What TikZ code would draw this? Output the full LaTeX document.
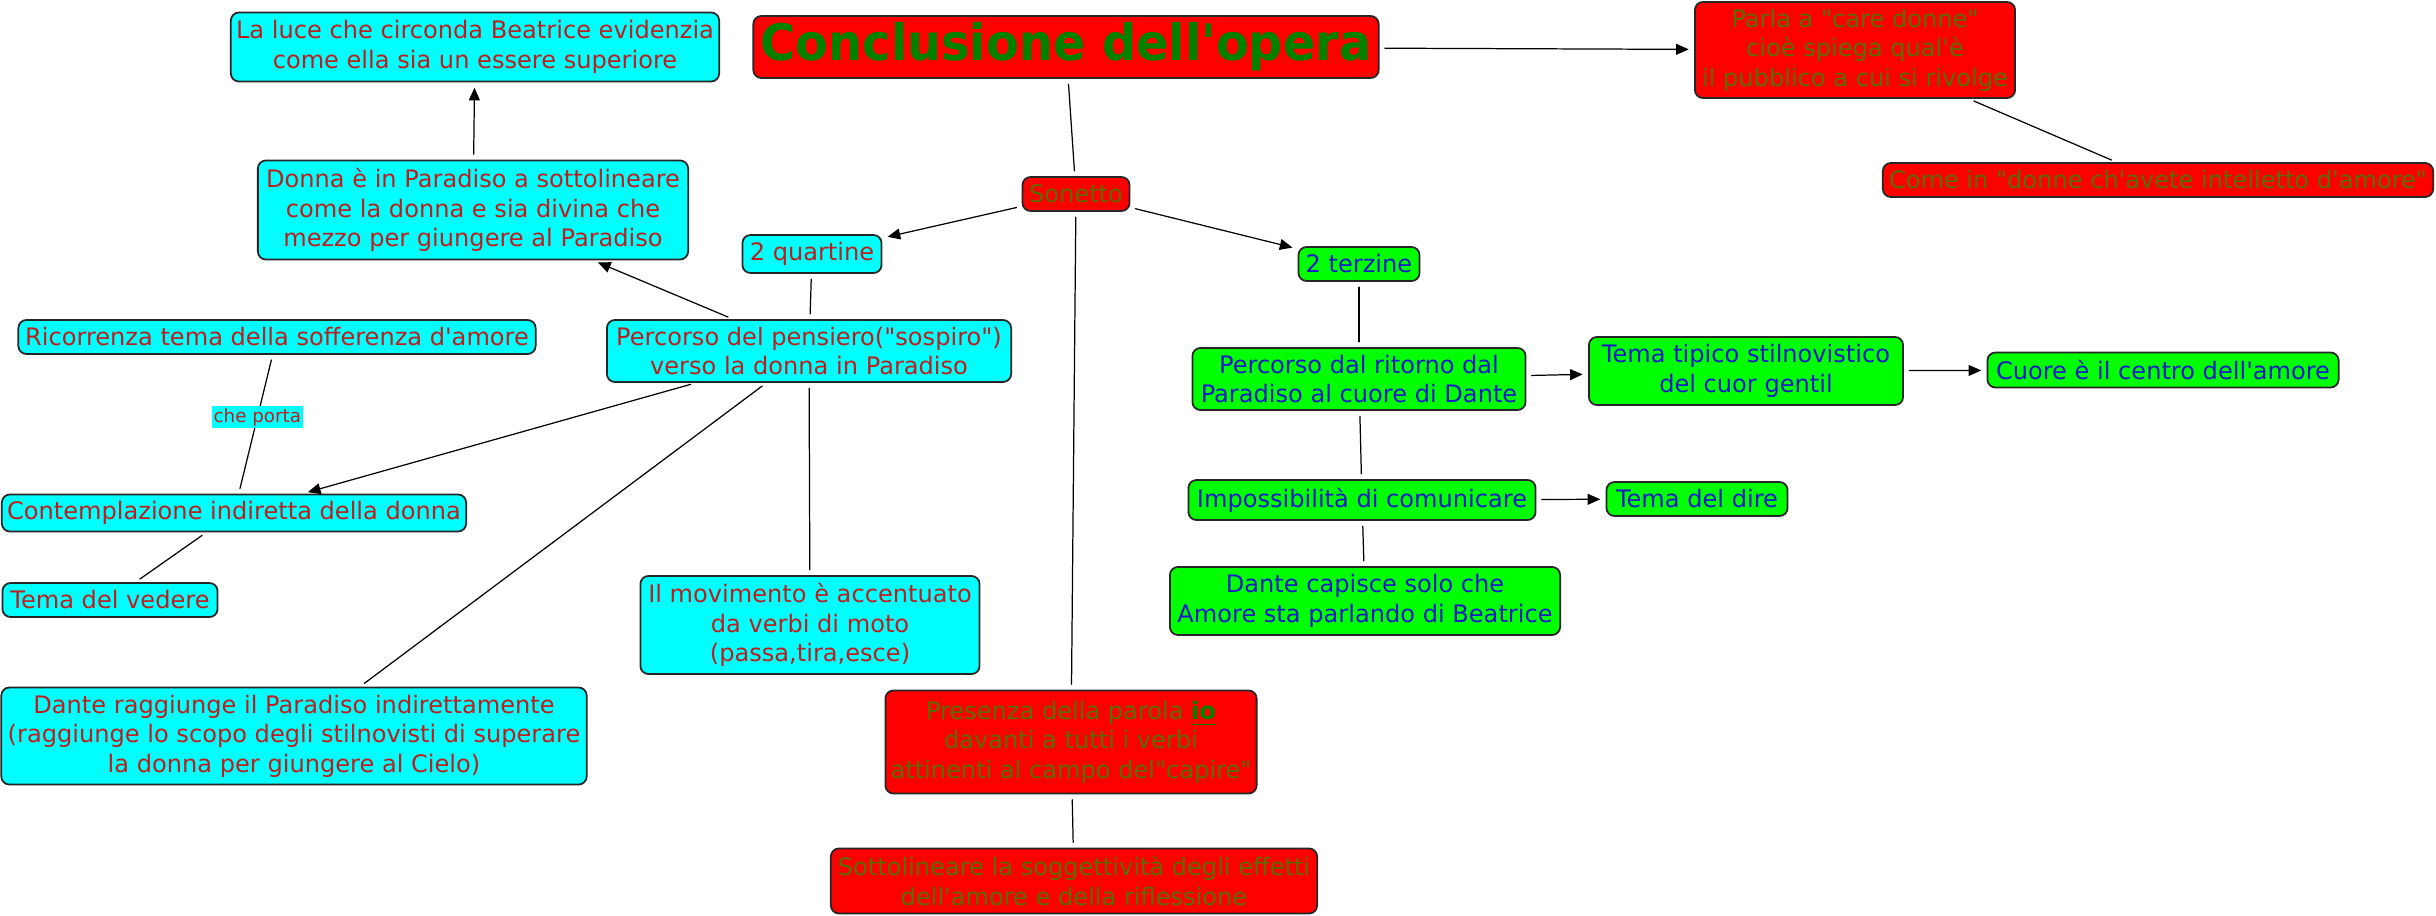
\documentclass[tikz,border=0pt]{standalone}
\usepackage{fontspec}
\setmainfont{DejaVu Sans}[Ligatures=TeXOff]
\newfontfamily\titlefont{DejaVu Sans}[Ligatures=TeXOff,FakeStretch=0.95]
\usepackage{tikz}
\usetikzlibrary{arrows.meta}
\usepackage{xcolor}
\definecolor{boxcyan}{RGB}{0,255,255}
\definecolor{boxred}{RGB}{255,0,0}
\definecolor{boxgreen}{RGB}{0,255,0}
\definecolor{txtred}{RGB}{190,30,30}
\definecolor{txtolive}{RGB}{88,110,0}
\definecolor{txtblue}{RGB}{25,25,200}
\definecolor{txtgreen}{RGB}{0,128,0}

\begin{document}
\begin{tikzpicture}[x=0.01cm,y=-0.01cm,>={Triangle[length=3.6pt,width=3.1pt]},line cap=round,
  font=\fontsize{6.85}{8.4}\selectfont,
  box/.style={draw=black!85,line width=0.5pt,rounded corners=2.3pt,align=center,inner sep=0pt},
  cy/.style={box,fill=boxcyan,text=txtred},
  rd/.style={box,fill=boxred,text=txtolive},
  gr/.style={box,fill=boxgreen,text=txtblue},
  link/.style={black,line width=0.35pt,shorten <=1.5pt,shorten >=1.5pt}]
\useasboundingbox (0,0) rectangle (2436,915);
% top row
\node[rd,text=txtgreen,font=\titlefont\bfseries\fontsize{14.3}{17}\selectfont,minimum width=6.25cm,minimum height=0.62cm] (title) at (1066,47) {Conclusione dell'opera};
\node[rd,minimum width=3.2cm,minimum height=0.96cm] (parla) at (1855,50) {Parla a "care donne"\\cioè spiega qual'è\\il pubblico a cui si rivolge};
\node[rd,minimum width=5.5cm,minimum height=0.34cm] (comein) at (2158,180) {Come in "donne ch'avete intelletto d'amore"};
\node[rd,minimum width=1.07cm,minimum height=0.34cm] (sonetto) at (1076,194) {Sonetto};
\node[cy,minimum width=4.88cm,minimum height=0.69cm] (luce) at (475,47) {La luce che circonda Beatrice evidenzia\\come ella sia un essere superiore};
\node[cy,minimum width=4.3cm,minimum height=0.99cm] (donna) at (473,210) {Donna è in Paradiso a sottolineare\\come la donna e sia divina che\\mezzo per giungere al Paradiso};
% quartine
\node[cy,minimum width=1.39cm,minimum height=0.38cm] (quartine) at (812,254) {2 quartine};
\node[cy,minimum width=5.17cm,minimum height=0.34cm] (ricorrenza) at (277,337) {Ricorrenza tema della sofferenza d'amore};
\node[cy,minimum width=4.04cm,minimum height=0.62cm] (pensiero) at (809,351) {Percorso del pensiero("sospiro")\\verso la donna in Paradiso};
\node[cy,minimum width=4.64cm,minimum height=0.37cm] (contempl) at (234,513) {Contemplazione indiretta della donna};
\node[cy,minimum width=2.15cm,minimum height=0.34cm] (vedere) at (110,600) {Tema del vedere};
\node[cy,minimum width=3.39cm,minimum height=0.98cm] (movimento) at (810,625) {Il movimento è accentuato\\da verbi di moto\\(passa,tira,esce)};
\node[cy,minimum width=5.85cm,minimum height=0.97cm] (raggiunge) at (294,736) {Dante raggiunge il Paradiso indirettamente\\(raggiunge lo scopo degli stilnovisti di superare\\la donna per giungere al Cielo)};
% terzine
\node[gr,minimum width=1.21cm,minimum height=0.34cm] (terzine) at (1359,264) {2 terzine};
\node[gr,minimum width=3.33cm,minimum height=0.62cm] (ritorno) at (1359,379) {Percorso dal ritorno dal\\Paradiso al cuore di Dante};
\node[gr,minimum width=3.14cm,minimum height=0.68cm] (tipico) at (1746,371) {Tema tipico stilnovistico\\del cuor gentil};
\node[gr,minimum width=3.51cm,minimum height=0.35cm] (cuore) at (2163,370) {Cuore è il centro dell'amore};
\node[gr,minimum width=3.47cm,minimum height=0.4cm] (impossib) at (1362,500) {Impossibilità di comunicare};
\node[gr,minimum width=1.81cm,minimum height=0.34cm] (dire) at (1697,499) {Tema del dire};
\node[gr,minimum width=3.9cm,minimum height=0.68cm] (capisce) at (1365,601) {Dante capisce solo che\\Amore sta parlando di Beatrice};
% io
\node[rd,minimum width=3.71cm,minimum height=1.03cm] (presenza) at (1071,742) {Presenza della parola \textcolor{txtgreen}{\underline{\textbf{io}}}\\davanti a tutti i verbi\\attinenti al campo del"capire"};
\node[rd,minimum width=4.86cm,minimum height=0.65cm] (sottolin) at (1074,881) {Sottolineare la soggettività degli effetti\\dell'amore e della riflessione};
% connectors
\draw[link] (title) -- (sonetto);
\draw[link,->] (title) -- (parla);
\draw[link] (parla) -- (comein);
\draw[link,->] (sonetto) -- (quartine);
\draw[link,->] (sonetto) -- (terzine);
\draw[link] (sonetto) -- (presenza);
\draw[link] (presenza) -- (sottolin);
\draw[link] (quartine) -- (pensiero);
\draw[link,->] (pensiero) -- (donna);
\draw[link,->] (donna) -- (luce);
\draw[link,->] (pensiero) -- (contempl);
\draw[link] (pensiero) -- (raggiunge);
\draw[link] (pensiero) -- (movimento);
\draw[link] (ricorrenza) -- node[pos=0.45,fill=boxcyan,text=txtred,inner sep=0.6pt,font=\fontsize{5.2}{6}\selectfont] (porta) {che porta} (contempl);
\draw[link] (contempl) -- (vedere);
\draw[link] (terzine) -- (ritorno);
\draw[link,->] (ritorno) -- (tipico);
\draw[link,->] (tipico) -- (cuore);
\draw[link] (ritorno) -- (impossib);
\draw[link,->] (impossib) -- (dire);
\draw[link] (impossib) -- (capisce);
\end{tikzpicture}
\end{document}
